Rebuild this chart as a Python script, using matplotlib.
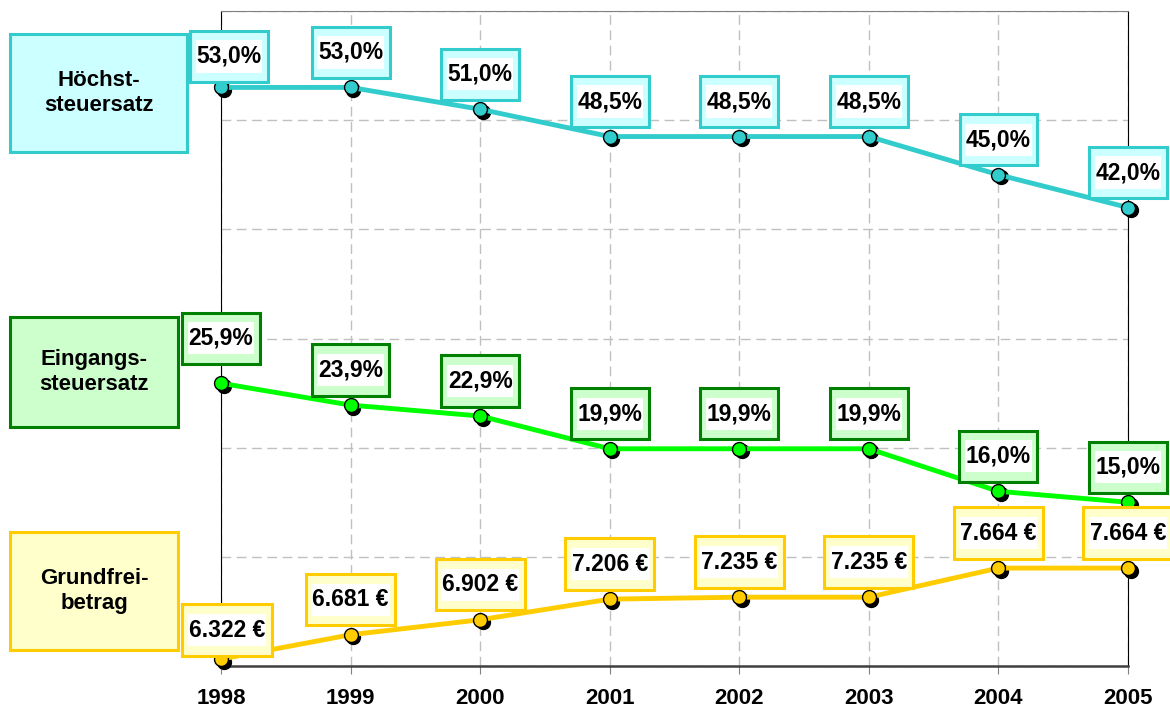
import numpy as np
import matplotlib.pyplot as plt
import matplotlib.transforms as mtransforms
from matplotlib.path import Path
from matplotlib.patches import Rectangle

plt.rcParams['font.family'] = ['Liberation Sans', 'DejaVu Sans']

# Daten
years = [1998, 1999, 2000, 2001, 2002, 2003, 2004, 2005]
hoechst = [53.0, 53.0, 51.0, 48.5, 48.5, 48.5, 45.0, 42.0]
eingang = [25.9, 23.9, 22.9, 19.9, 19.9, 19.9, 16.0, 15.0]
grundfrei = [6322, 6681, 6902, 7206, 7235, 7235, 7664, 7664]

series_names = ['Höchst-\nsteuersatz', 'Eingangs-\nsteuersatz', 'Grundfrei-\nbetrag']

W, H = 1170, 713
fig = plt.figure(figsize=(W / 100, H / 100), dpi=100)
ax = fig.add_axes([221 / W, 1 - 666 / H, (1128 - 221) / W, (666 - 11) / H])
ax2 = ax.twinx()

ax.set_xlim(1998, 2005)
ax.set_ylim(0, 60)
ax2.set_ylim(6220, 15880)


def make_box(fx, fy):
    # Rahmen mit unterschiedlichem Abstand links/rechts und oben/unten
    def box(x0, y0, width, height, mutation_size):
        px = fx * mutation_size
        py = fy * mutation_size
        verts = [(x0 - px, y0 - py), (x0 + width + px, y0 - py),
                 (x0 + width + px, y0 + height + py), (x0 - px, y0 + height + py),
                 (x0 - px, y0 - py)]
        return Path(verts, closed=True)
    return box


outer_box = make_box(0.28, 0.62)
inner_box = make_box(0.03, 0.20)


def draw_series(a, values, color):
    shadow = mtransforms.offset_copy(a.transData, fig=fig, x=2.5, y=-2.5, units='dots')
    a.plot(years, values, 'o', ms=10, color='black', transform=shadow,
           clip_on=False, zorder=3)
    a.plot(years, values, '-', color=color, lw=3.5, clip_on=False, zorder=4)
    a.plot(years, values, 'o', ms=10, mfc=color, mec='black', mew=1,
           ls='none', clip_on=False, zorder=5)


def add_labels(a, values, texts, edge, fill, first_off):
    for i, (x, v, t) in enumerate(zip(years, values, texts)):
        off = first_off if i == 0 else (0, 35)
        a.annotate(t, (x, v), xytext=off, textcoords='offset pixels',
                   ha='center', va='center', fontsize=16.5, fontweight='bold',
                   color='none', annotation_clip=False, zorder=8,
                   bbox=dict(boxstyle=outer_box, fc=fill, ec=edge, lw=2.2))
        a.annotate(t, (x, v), xytext=off, textcoords='offset pixels',
                   ha='center', va='center', fontsize=16.5, fontweight='bold',
                   color='black', annotation_clip=False, zorder=9,
                   bbox=dict(boxstyle=inner_box, fc='white', ec='none'))


cyan, cyan_fill = '#33CCCC', '#CCFFFF'
green, green_edge, green_fill = '#00FF00', '#008000', '#CCFFCC'
gold, gold_fill = '#FFCC00', '#FFFFCC'

draw_series(ax, hoechst, cyan)
draw_series(ax, eingang, green)
draw_series(ax2, grundfrei, gold)

pct = lambda v: f'{v:.1f}'.replace('.', ',') + '%'
eur = lambda v: f'{v:,}'.replace(',', '.') + ' €'

add_labels(ax, hoechst, [pct(v) for v in hoechst], cyan, cyan_fill, (8, 31))
add_labels(ax, eingang, [pct(v) for v in eingang], green_edge, green_fill, (0, 45))
add_labels(ax2, grundfrei, [eur(v) for v in grundfrei], gold, gold_fill, (6, 29))

# Achsen
ax.set_xticks(years)
ax.set_xticklabels([str(y) for y in years], fontsize=16, fontweight='bold')
ax.set_yticks(np.arange(0, 61, 10))
ax.tick_params(axis='y', length=0, labelleft=False)
ax.tick_params(axis='x', direction='out', length=6, color='#808080', pad=10)
ax.grid(True, ls=(0, (7, 4)), color='#C0C0C0', lw=1)
ax2.set_yticks([])
for s in ax2.spines.values():
    s.set_visible(False)
ax.spines['top'].set_color('#808080')
ax.spines['left'].set_color('black')
ax.spines['right'].set_color('black')
ax.spines['bottom'].set_color('#404040')
ax.spines['bottom'].set_linewidth(1.8)

# Legendenkästen links
boxes = [(10, 34, 187, 152), (10, 317, 178, 427), (10, 532, 178, 650)]
edges = [cyan, green_edge, gold]
fills = [cyan_fill, green_fill, gold_fill]
for name, (x0, y0, x1, y1), ec, fc in zip(series_names, boxes, edges, fills):
    fig.add_artist(Rectangle((x0 / W, 1 - y1 / H), (x1 - x0) / W, (y1 - y0) / H,
                             transform=fig.transFigure, fc=fc, ec=ec, lw=2.2))
    fig.text((x0 + x1) / 2 / W, 1 - (y0 + y1) / 2 / H, name, ha='center',
             va='center', fontsize=16, fontweight='bold', linespacing=1.25)

fig.savefig('out.png', dpi=100)
